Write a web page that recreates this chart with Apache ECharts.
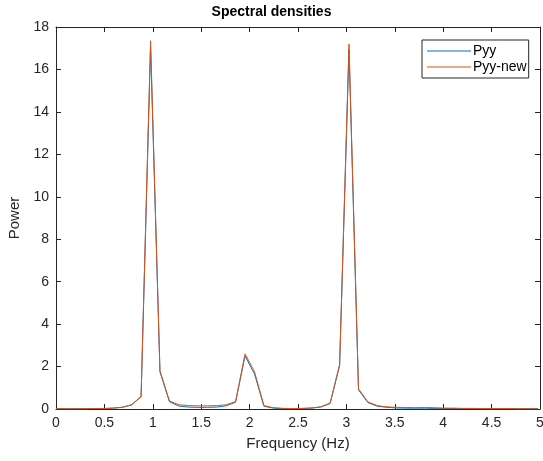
<!DOCTYPE html>
<html>
<head>
<meta charset="utf-8">
<script src="https://cdn.jsdelivr.net/npm/echarts@6/dist/echarts.min.js"></script>
<style>
  html, body { margin: 0; padding: 0; background: #fff; }
  #chart { width: 543px; height: 461px; }
</style>
</head>
<body>
<div id="chart"></div>
<script>
// frequency bins (Hz)
const freq = [
  0.000, 0.098, 0.195, 0.293, 0.391, 0.488, 0.586, 0.684, 0.781, 0.879,
  0.977, 1.074, 1.172, 1.270, 1.367, 1.465, 1.563, 1.660, 1.758, 1.855,
  1.953, 2.051, 2.148, 2.246, 2.344, 2.441, 2.539, 2.637, 2.734, 2.832,
  2.930, 3.027, 3.125, 3.223, 3.320, 3.418, 3.516, 3.613, 3.711, 3.809,
  3.906, 4.004, 4.102, 4.199, 4.297, 4.395, 4.492, 4.590, 4.688, 4.785,
  4.883, 4.980
]

const pyy = [
  0.01, 0.01, 0.01, 0.01, 0.02, 0.02, 0.04, 0.08, 0.19, 0.58,
  17.05, 1.75, 0.34, 0.14, 0.09, 0.08, 0.08, 0.09, 0.15, 0.32,
  2.5, 1.65, 0.13, 0.04, 0.02, 0.01, 0.02, 0.04, 0.09, 0.26,
  2.05, 16.95, 0.9, 0.3, 0.13, 0.08, 0.05, 0.04, 0.04, 0.04,
  0.03, 0.03, 0.02, 0.02, 0.02, 0.01, 0.01, 0.01, 0.01, 0.01,
  0.01, 0.01
]

const pyyNew = [
  0.01, 0.01, 0.01, 0.01, 0.02, 0.02, 0.04, 0.08, 0.2, 0.6,
  17.35, 1.8, 0.38, 0.2, 0.16, 0.15, 0.15, 0.16, 0.2, 0.35,
  2.6, 1.75, 0.16, 0.06, 0.03, 0.02, 0.03, 0.05, 0.1, 0.28,
  2.1, 17.2, 0.95, 0.33, 0.16, 0.1, 0.08, 0.07, 0.06, 0.07,
  0.06, 0.04, 0.04, 0.03, 0.03, 0.02, 0.02, 0.02, 0.02, 0.01,
  0.01, 0.01
]

const axisColor = '#262626'
const font = 'Liberation Sans, Arial, Helvetica, sans-serif'

const chart = echarts.init(document.getElementById('chart'))

// top / right axes only draw the box and the inner ticks
const boxAxis = {
  axisLine: { show: true, onZero: false, lineStyle: { color: axisColor, width: 1 } },
  axisTick: { show: true, inside: true, length: 5, lineStyle: { color: axisColor } },
  axisLabel: { show: false },
  splitLine: { show: false }
}

chart.setOption({
  animation: false,
  backgroundColor: '#fff',
  title: {
    text: 'Spectral densities',
    left: 'center',
    top: 0,
    textStyle: { fontFamily: font, fontSize: 14, fontWeight: 'bold', color: '#000' }
  },
  legend: {
    orient: 'vertical',
    left: 422,
    top: 40,
    padding: [4, 2, 4, 5],
    itemGap: 2,
    itemWidth: 44,
    itemHeight: 1,
    icon: 'rect',
    borderColor: '#262626',
    borderWidth: 1,
    backgroundColor: '#fff',
    textStyle: { fontFamily: font, fontSize: 14, color: '#000', padding: [0, 0, 0, -3] },
    data: ['Pyy', 'Pyy-new']
  },
  grid: { left: 56, right: 3, top: 27, bottom: 52, outerBoundsMode: 'none' },
  xAxis: [
    {
      type: 'value',
      min: 0,
      max: 5,
      interval: 0.5,
      name: 'Frequency (Hz)',
      nameLocation: 'middle',
      nameGap: 27,
      nameTextStyle: { fontFamily: font, fontSize: 15, color: axisColor },
      axisLine: { show: true, onZero: false, lineStyle: { color: axisColor } },
      axisTick: { inside: true, length: 5, lineStyle: { color: axisColor } },
      axisLabel: { fontFamily: font, fontSize: 14, color: axisColor, margin: 7 },
      splitLine: { show: false }
    },
    Object.assign({ type: 'value', position: 'top', min: 0, max: 5, interval: 0.5 }, boxAxis)
  ],
  yAxis: [
    {
      type: 'value',
      min: 0,
      max: 18,
      interval: 2,
      name: 'Power',
      nameLocation: 'middle',
      nameGap: 27,
      nameTextStyle: { fontFamily: font, fontSize: 15, color: axisColor },
      axisLine: { show: true, onZero: false, lineStyle: { color: axisColor } },
      axisTick: { show: true, inside: true, length: 5, lineStyle: { color: axisColor } },
      axisLabel: { fontFamily: font, fontSize: 14, color: axisColor, margin: 7 },
      splitLine: { show: false }
    },
    Object.assign({ type: 'value', position: 'right', min: 0, max: 18, interval: 2 }, boxAxis)
  ],
  series: [
    {
      name: 'Pyy',
      type: 'line',
      data: freq.map((f, i) => [f, pyy[i]]),
      symbol: 'none',
      lineStyle: { color: '#0072BD', width: 1 },
      itemStyle: { color: '#0072BD' }
    },
    {
      name: 'Pyy-new',
      type: 'line',
      data: freq.map((f, i) => [f, pyyNew[i]]),
      symbol: 'none',
      lineStyle: { color: '#D95319', width: 1 },
      itemStyle: { color: '#D95319' }
    }
  ]
})
</script>
</body>
</html>
